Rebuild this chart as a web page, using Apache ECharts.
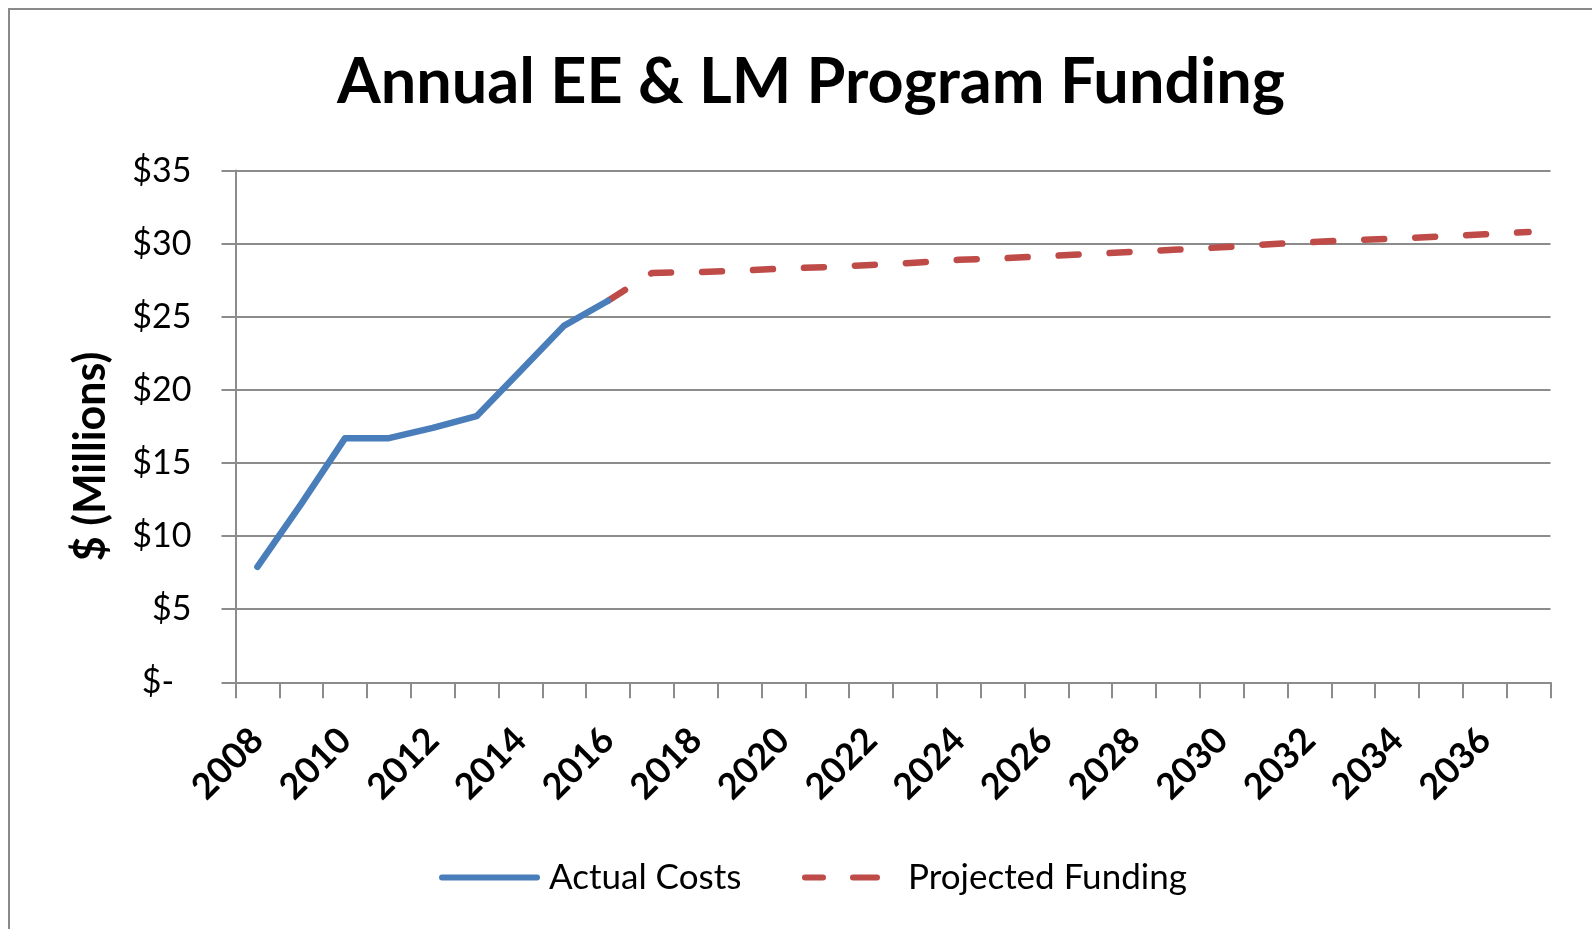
<!DOCTYPE html>
<html><head><meta charset="utf-8">
<script src="https://cdn.jsdelivr.net/npm/echarts@6/dist/echarts.min.js"></script>
<style>html,body{margin:0;padding:0;background:#fff}#c{width:1592px;height:929px}</style>
</head><body><div id="c"></div>
<script>
const years = ['2008','2009','2010','2011','2012','2013','2014','2015','2016','2017','2018','2019','2020','2021','2022','2023','2024','2025','2026','2027','2028','2029','2030','2031','2032','2033','2034','2035','2036','2037'];
const actualCosts = [7.9, 12.2, 16.7, 16.7, 17.4, 18.2, 21.3, 24.4, 26.1, null, null, null, null, null, null, null, null, null, null, null, null, null, null, null, null, null, null, null, null, null];
const projectedFunding = [null, null, null, null, null, null, null, null, 26.1, 28.0, 28.05, 28.15, 28.3, 28.4, 28.55, 28.7, 28.9, 29.0, 29.15, 29.3, 29.45, 29.6, 29.75, 29.95, 30.1, 30.25, 30.35, 30.5, 30.65, 30.8];
const yTicks = {min: 0, max: 35, interval: 5};

const chart = echarts.init(document.getElementById('c'));
const gray = '#8c8c8c';
const font = 'Lato';
const blue = '#4a7ebb', red = '#be4b48';
chart.setOption({
  animation: false,
  backgroundColor: '#fff',
  graphic: [{type: 'rect', shape: {x: 9, y: 9, width: 1700, height: 1000}, style: {fill: 'none', stroke: '#8a8a8a', lineWidth: 2}, silent: true}],
  title: {text: 'Annual EE & LM Program Funding', left: 806, textAlign: 'center', top: 46,
    textStyle: {fontFamily: font, fontWeight: 'bold', fontSize: 63, color: '#000'}},
  grid: {left: 235.5, right: 41.5, top: 170.6, bottom: 246.7, containLabel: false},
  legend: [
    {data: ['Actual Costs'], left: 434, top: 855, itemWidth: 101, itemHeight: 6,
      icon: 'path://M3,0H98A3,3 0 0 1 98,6H3A3,3 0 0 1 3,0Z',
      textStyle: {fontFamily: font, fontSize: 35, color: '#000', padding: [0,0,0,4]}},
    {data: ['Projected Funding'], left: 797, top: 855, itemWidth: 78, itemHeight: 6,
      icon: 'path://M3,0H21A3,3 0 0 1 21,6H3A3,3 0 0 1 3,0Z M51,0H75A3,3 0 0 1 75,6H51A3,3 0 0 1 51,0Z',
      textStyle: {fontFamily: font, fontSize: 35, color: '#000', padding: [0,0,0,23]}}
  ],
  xAxis: {type: 'category', data: years, boundaryGap: true,
    axisLine: {lineStyle: {color: gray, width: 2}},
    axisTick: {show: true, interval: 0, length: 16, lineStyle: {color: gray, width: 2}},
    axisLabel: {interval: 1, rotate: 45, margin: 52, fontFamily: font, fontWeight: 'bold', fontSize: 36, color: '#000'}},
  yAxis: {type: 'value', min: yTicks.min, max: yTicks.max, interval: yTicks.interval,
    name: '$ (Millions)', nameLocation: 'middle', nameRotate: 90, nameGap: 123,
    nameTextStyle: {fontFamily: font, fontWeight: 'bold', fontSize: 43, color: '#000', padding: [0, 60, 0, 0]},
    axisLine: {show: true, lineStyle: {color: gray, width: 2}},
    axisTick: {show: true, length: 14, lineStyle: {color: gray, width: 2}},
    splitLine: {lineStyle: {color: gray, width: 2}},
    axisLabel: {margin: 44, fontFamily: font, fontSize: 34, color: '#000',
      formatter: v => v === 0 ? '$-  ' : '$' + v}},
  series: [
    {name: 'Actual Costs', type: 'line', data: actualCosts, showSymbol: false, symbol: 'none', z: 3,
      lineStyle: {color: blue, width: 6.5, cap: 'round', join: 'round'}, itemStyle: {color: blue}},
    {name: 'Projected Funding', type: 'line', data: projectedFunding, showSymbol: false, symbol: 'none', z: 2,
      lineStyle: {color: red, width: 6.5, type: [20, 31], cap: 'round', join: 'round'}, itemStyle: {color: red}}
  ]
});
</script></body></html>
